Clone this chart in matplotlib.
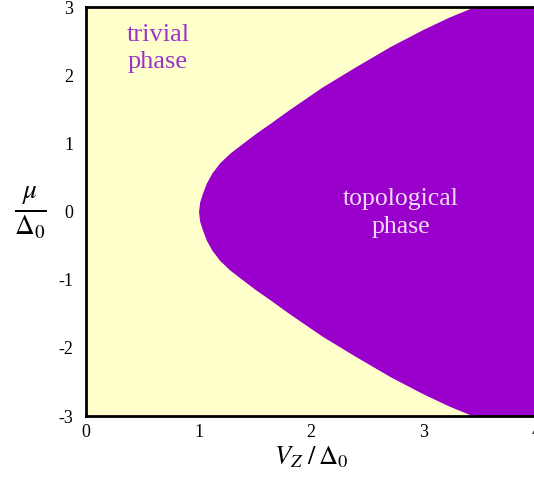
import matplotlib
matplotlib.use("Agg")
import matplotlib.pyplot as plt

# phase boundary: mu / Delta0 -> V_Z / Delta0
mu_bound = [-3.0, -2.85, -2.67, -2.42, -2.13, -1.83, -1.49, -1.3, -1.15,
            -1.0, -0.86, -0.72, -0.57, -0.42, -0.27, -0.14, 0.0,
            0.14, 0.27, 0.42, 0.57, 0.72, 0.86, 1.0, 1.15, 1.3, 1.49,
            1.83, 2.13, 2.42, 2.67, 2.85, 3.0]
vz_bound = [3.44, 3.22, 2.99, 2.70, 2.40, 2.10, 1.80, 1.64, 1.51,
            1.39, 1.28, 1.19, 1.12, 1.07, 1.035, 1.01, 1.0,
            1.01, 1.035, 1.07, 1.12, 1.19, 1.28, 1.39, 1.51, 1.64, 1.80,
            2.10, 2.40, 2.70, 2.99, 3.22, 3.44]

x_ticks = [0, 1, 2, 3, 4]
y_ticks = [-3, -2, -1, 0, 1, 2, 3]

plt.rcParams['font.family'] = ['Liberation Serif', 'DejaVu Serif']
plt.rcParams['mathtext.fontset'] = 'stix'
plt.rcParams['axes.unicode_minus'] = False

fig = plt.figure(figsize=(5.34, 4.79), dpi=100)
ax = fig.add_axes([0.161, 0.1315, 0.843, 0.8535])

ax.set_facecolor('#FFFFCC')
ax.fill_betweenx(mu_bound, vz_bound, 4.5, color='#9900CC', linewidth=0)

ax.set_xlim(0, 4)
ax.set_ylim(-3, 3)
ax.set_xticks(x_ticks)
ax.set_yticks(y_ticks)
ax.tick_params(length=0, labelsize=13)
ax.tick_params(axis='y', pad=9)
ax.tick_params(axis='x', pad=6)

for s in ax.spines.values():
    s.set_linewidth(2)
    s.set_color('black')

ax.text(0.64, 2.4, 'trivial\nphase', color='#9933CC', fontsize=19,
        ha='center', va='center', linespacing=1.3)
ax.text(2.8, -0.02, 'topological\nphase', color='#F2D9F2', fontsize=18.5,
        ha='center', va='center', linespacing=1.4)

ax.set_xlabel(r'$V_Z\ /\,\Delta_0$', fontsize=19, labelpad=2)
ax.set_ylabel(r'$\frac{\mu}{\Delta_0}$', fontsize=28, rotation=0,
              labelpad=20, va='center')

fig.savefig('out.png', dpi=100)
